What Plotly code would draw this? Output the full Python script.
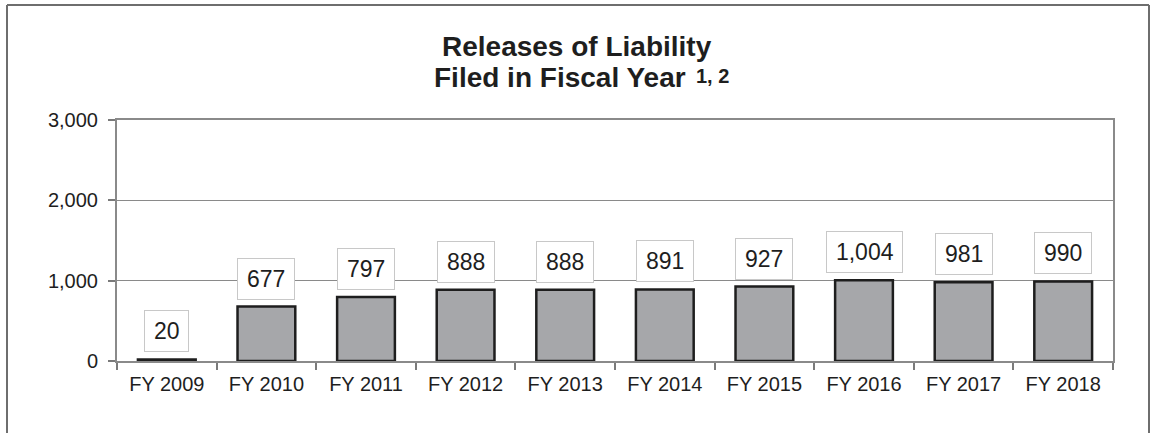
import plotly.graph_objects as go

categories = ["FY 2009", "FY 2010", "FY 2011", "FY 2012", "FY 2013",
              "FY 2014", "FY 2015", "FY 2016", "FY 2017", "FY 2018"]
values = [20, 677, 797, 888, 888, 891, 927, 1004, 981, 990]
y_ticks = [0, 1000, 2000, 3000]
y_tick_labels = ["0", "1,000", "2,000", "3,000"]
title_line1 = "Releases of Liability"
title_line2 = "Filed in Fiscal Year"
title_note = "1, 2"

W, H = 1154, 433
ml, mr, mt, mb = 117, 41, 120, 72
pw, ph = W - ml - mr, H - mt - mb


def px_x(x):
    return (x - ml) / pw


def px_y(y):
    return 1 - (y - mt) / ph


FONT = "Liberation Sans, Arial, sans-serif"
INK = "#1e1e1e"

fig = go.Figure()
fig.add_trace(go.Bar(
    x=categories, y=values, width=0.58,
    marker=dict(color="#a6a7aa", line=dict(color=INK, width=2.5)),
    hoverinfo="x+y",
))

for c, v in zip(categories, values):
    fig.add_annotation(
        x=c, y=v, xref="x", yref="y", yanchor="bottom", yshift=7,
        text="\u200a" + f"{v:,}" + "\u200a", showarrow=False,
        font=dict(family=FONT, size=23, color=INK),
        bgcolor="white", bordercolor="#c8c8c8", borderwidth=1, borderpad=7,
    )

# title, two lines plus footnote marker
fig.add_annotation(x=px_x(577), y=px_y(47), xref="paper", yref="paper",
                   xanchor="center", yanchor="middle", showarrow=False,
                   text="<b>" + title_line1 + "</b>",
                   font=dict(family=FONT, size=28, color=INK))
fig.add_annotation(x=px_x(560), y=px_y(78), xref="paper", yref="paper",
                   xanchor="center", yanchor="middle", showarrow=False,
                   text="<b>" + title_line2 + "</b>",
                   font=dict(family=FONT, size=28, color=INK))
fig.add_annotation(x=px_x(694), y=px_y(76), xref="paper", yref="paper",
                   xanchor="left", yanchor="middle", showarrow=False,
                   text="<b>" + title_note + "</b>",
                   font=dict(family=FONT, size=20, color=INK))

# outer frame (left, top, right)
x_left, x_right = px_x(7), px_x(1149)
y_top, y_bot = px_y(5), px_y(440)
frame = dict(color="#6e6e6e", width=2)
fig.add_shape(type="line", xref="paper", yref="paper", x0=x_left, x1=x_left, y0=y_bot, y1=y_top, line=frame)
fig.add_shape(type="line", xref="paper", yref="paper", x0=x_left, x1=x_right, y0=y_top, y1=y_top, line=frame)
fig.add_shape(type="line", xref="paper", yref="paper", x0=x_right, x1=x_right, y0=y_bot, y1=y_top, line=frame)

fig.update_layout(
    width=W, height=H,
    margin=dict(l=ml, r=mr, t=mt, b=mb),
    paper_bgcolor="white", plot_bgcolor="white",
    showlegend=False,
    font=dict(family=FONT, color=INK),
    xaxis=dict(
        type="category", tickson="boundaries", ticks="outside", ticklen=7,
        tickcolor="#7a7a7a", tickwidth=1.5,
        showline=True, linecolor="#8a8a8a", linewidth=2, mirror=True,
        showgrid=False, ticklabelstandoff=4,
        tickfont=dict(size=20, color=INK),
    ),
    yaxis=dict(
        range=[0, 3000], tickvals=y_ticks, ticktext=y_tick_labels,
        ticks="outside", ticklen=7, tickcolor="#7a7a7a", tickwidth=1.5,
        showline=True, linecolor="#8a8a8a", linewidth=2, mirror=True,
        showgrid=True, gridcolor="#8a8a8a", gridwidth=1.2,
        zeroline=False, ticklabelstandoff=6,
        tickfont=dict(size=20, color=INK),
    ),
)

fig.write_html(
    "out.html",
    config={"displayModeBar": False},
    post_script="document.body.style.margin='0';document.body.style.overflow='hidden';",
)
